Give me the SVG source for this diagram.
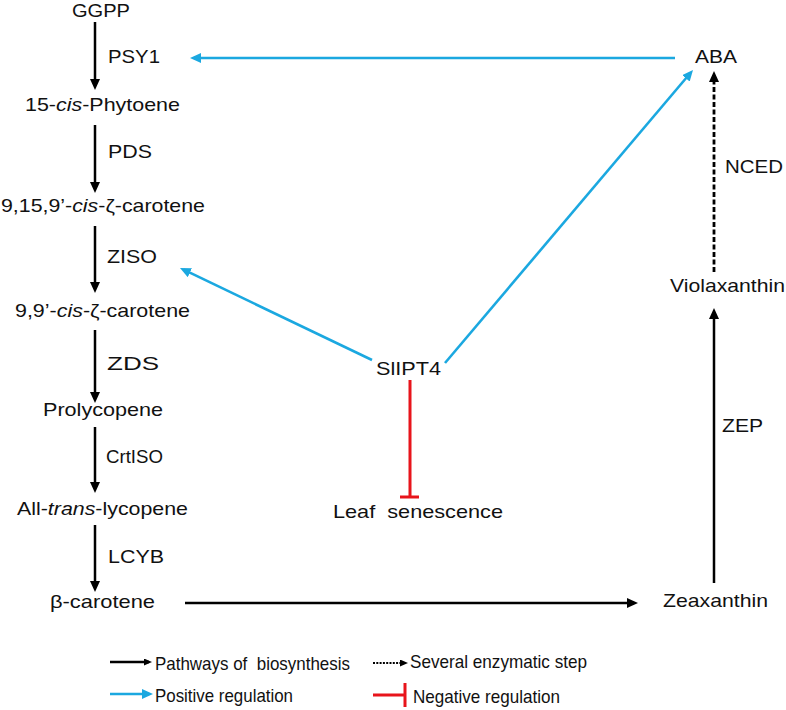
<svg xmlns="http://www.w3.org/2000/svg" width="786" height="710" viewBox="0 0 786 710">
<style>
text{font-family:"Liberation Sans",Arial,Helvetica,sans-serif;font-size:18.5px;fill:#111;}
.it{font-style:italic;}
.blk{stroke:#000;stroke-width:2.5;fill:none;}
.blu{stroke:#1ba8e0;stroke-width:2.6;fill:none;}
.red{stroke:#e8141b;stroke-width:3;fill:none;}
.dash{stroke:#000;stroke-width:2.8;stroke-dasharray:5 2.5;fill:none;}
.dot{stroke:#000;stroke-width:1.8;stroke-dasharray:2 1.3;fill:none;}
</style>
<defs>
<marker id="ab" markerUnits="userSpaceOnUse" markerWidth="12" markerHeight="11" refX="7" refY="5" orient="auto">
<path d="M0,0 L11,5 L0,10 z" fill="#000"/>
</marker>
<marker id="au" markerUnits="userSpaceOnUse" markerWidth="12" markerHeight="11" refX="7" refY="5" orient="auto">
<path d="M0,0 L11,5 L0,10 z" fill="#1ba8e0"/>
</marker>
<marker id="as" markerUnits="userSpaceOnUse" markerWidth="9" markerHeight="9" refX="5" refY="3.5" orient="auto">
<path d="M0,0 L8,3.5 L0,7 z" fill="#000"/>
</marker>
</defs>
<rect width="786" height="710" fill="#fff"/>

<g id="connectors">
<line class="blk" x1="95" y1="22" x2="95" y2="86" marker-end="url(#ab)"/>
<line class="blk" x1="95" y1="125" x2="95" y2="189" marker-end="url(#ab)"/>
<line class="blk" x1="95" y1="226" x2="95" y2="289" marker-end="url(#ab)"/>
<line class="blk" x1="95" y1="330" x2="95" y2="399" marker-end="url(#ab)"/>
<line class="blk" x1="95" y1="427" x2="95" y2="489" marker-end="url(#ab)"/>
<line class="blk" x1="95" y1="525" x2="95" y2="588" marker-end="url(#ab)"/>
<line class="blk" x1="185" y1="603" x2="634" y2="603" marker-end="url(#ab)"/>
<line class="blk" x1="714" y1="583" x2="714" y2="312" marker-end="url(#ab)"/>
<line class="dash" x1="714" y1="272" x2="714" y2="75" marker-end="url(#ab)"/>
<line class="blu" x1="675" y1="58" x2="194" y2="58" marker-end="url(#au)"/>
<line class="blu" x1="372" y1="360" x2="183.6" y2="269.7" marker-end="url(#au)"/>
<line class="blu" x1="445" y1="363" x2="690.4" y2="73" marker-end="url(#au)"/>
<path class="red" d="M410,380 V497 M400,497 H419"/>
</g>

<g id="GGPP"><text x="72" y="17" textLength="58" lengthAdjust="spacingAndGlyphs">GGPP</text></g>
<g id="PSY1"><text x="108" y="63" textLength="52" lengthAdjust="spacingAndGlyphs">PSY1</text></g>
<g id="phytoene"><text x="25" y="111" textLength="155" lengthAdjust="spacingAndGlyphs">15-<tspan class="it">cis</tspan>-Phytoene</text></g>
<g id="PDS"><text x="108" y="158" textLength="44" lengthAdjust="spacingAndGlyphs">PDS</text></g>
<g id="c9159"><text x="1" y="212" textLength="204" lengthAdjust="spacingAndGlyphs">9,15,9’-<tspan class="it">cis</tspan>-ζ-carotene</text></g>
<g id="ZISO"><text x="107" y="263" textLength="50" lengthAdjust="spacingAndGlyphs">ZISO</text></g>
<g id="c99"><text x="15" y="317" textLength="175" lengthAdjust="spacingAndGlyphs">9,9’-<tspan class="it">cis</tspan>-ζ-carotene</text></g>
<g id="ZDS"><text x="107" y="370" textLength="52" lengthAdjust="spacingAndGlyphs">ZDS</text></g>
<g id="prolycopene"><text x="43" y="416" textLength="120" lengthAdjust="spacingAndGlyphs">Prolycopene</text></g>
<g id="CrtISO"><text x="106" y="463" textLength="57" lengthAdjust="spacingAndGlyphs">CrtISO</text></g>
<g id="lycopene"><text x="17" y="515" textLength="171" lengthAdjust="spacingAndGlyphs">All-<tspan class="it">trans</tspan>-lycopene</text></g>
<g id="LCYB"><text x="108" y="563" textLength="56" lengthAdjust="spacingAndGlyphs">LCYB</text></g>
<g id="bcarotene"><text x="50" y="608" textLength="105" lengthAdjust="spacingAndGlyphs">β-carotene</text></g>
<g id="zeaxanthin"><text x="663" y="607" textLength="105" lengthAdjust="spacingAndGlyphs">Zeaxanthin</text></g>
<g id="ZEP"><text x="722" y="432" textLength="41" lengthAdjust="spacingAndGlyphs">ZEP</text></g>
<g id="violaxanthin"><text x="670" y="292" textLength="115" lengthAdjust="spacingAndGlyphs">Violaxanthin</text></g>
<g id="NCED"><text x="725" y="173" textLength="58" lengthAdjust="spacingAndGlyphs">NCED</text></g>
<g id="ABA"><text x="695" y="63" textLength="42" lengthAdjust="spacingAndGlyphs">ABA</text></g>
<g id="SlIPT4"><text x="376" y="375" textLength="65" lengthAdjust="spacingAndGlyphs">SlIPT4</text></g>
<g id="senescence"><text x="333" y="518" textLength="170" lengthAdjust="spacingAndGlyphs" xml:space="preserve">Leaf  senescence</text></g>

<g id="legend">
<line class="blk" x1="110" y1="662" x2="149" y2="662" marker-end="url(#as)"/>
<text x="155" y="670" textLength="195" lengthAdjust="spacingAndGlyphs" xml:space="preserve">Pathways of  biosynthesis</text>
<line class="blu" x1="110" y1="694" x2="149" y2="694" marker-end="url(#au)"/>
<text x="155" y="702" textLength="138" lengthAdjust="spacingAndGlyphs">Positive regulation</text>
<line class="dot" x1="373" y1="663" x2="405" y2="663" marker-end="url(#as)"/>
<text x="410" y="668" textLength="177" lengthAdjust="spacingAndGlyphs">Several enzymatic step</text>
<path class="red" d="M373,695 H405 M405,683 V707"/>
<text x="413" y="703" textLength="147" lengthAdjust="spacingAndGlyphs">Negative regulation</text>
</g>
</svg>
